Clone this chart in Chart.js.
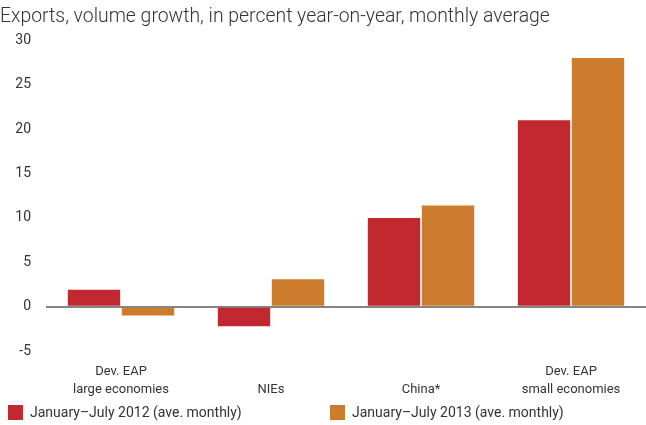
<!DOCTYPE html>
<html>
<head>
<meta charset="utf-8">
<script src="https://cdn.jsdelivr.net/npm/chart.js@4.4.1/dist/chart.umd.min.js"></script>
<style>
  html, body { margin: 0; padding: 0; background: #fff; }
  #wrap { position: relative; width: 646px; height: 425px; overflow: hidden; }
  #exportsChart { position: absolute; left: 0; top: 0; }
  .legend { position: absolute; top: 404px; font-family: Roboto, sans-serif; font-size: 14px; color: #333; white-space: nowrap; }
  .legend span.box { display: inline-block; width: 15px; height: 15px; vertical-align: -3px; margin-right: 7px; }
</style>
</head>
<body>
<div id="wrap">
  <canvas id="exportsChart" width="646" height="425"></canvas>
  <div class="legend" style="left:8px"><span class="box" style="background:#c1282f"></span>January–July 2012 (ave. monthly)</div>
  <div class="legend" style="left:330px"><span class="box" style="background:#cd7b2c"></span>January–July 2013 (ave. monthly)</div>
</div>
<script>
// Export volume growth by country group
const groups = [
  ['Dev. EAP', 'large economies'],
  ['', 'NIEs'],
  ['', 'China*'],
  ['Dev. EAP', 'small economies']
];
const jan2012 = [1.9, -2.2, 10.0, 21.0];
const jan2013 = [-1.0, 3.1, 11.4, 28.0];
const yTicks = [-5, 0, 5, 10, 15, 20, 25, 30];

const textFont = 'Roboto, sans-serif';

const ctx = document.getElementById('exportsChart').getContext('2d');
new Chart(ctx, {
  type: 'bar',
  data: {
    labels: groups,
    datasets: [
      {
        label: 'January–July 2012 (ave. monthly)',
        data: jan2012,
        backgroundColor: '#c1282f',
        categoryPercentage: 0.72,
        barPercentage: 0.97
      },
      {
        label: 'January–July 2013 (ave. monthly)',
        data: jan2013,
        backgroundColor: '#cd7b2c',
        categoryPercentage: 0.72,
        barPercentage: 0.97
      }
    ]
  },
  options: {
    responsive: false,
    animation: false,
    layout: { padding: { left: 0, right: 0, top: 4, bottom: 22 } },
    plugins: {
      legend: { display: false },
      tooltip: { enabled: false },
      title: {
        display: true,
        text: 'Exports, volume growth, in percent year-on-year, monthly average',
        align: 'start',
        color: '#333',
        font: { family: 'Roboto, sans-serif', size: 19.4, weight: '300' },
        padding: { top: 2, bottom: 11 }
      }
    },
    scales: {
      x: {
        grid: { display: false },
        border: { display: false },
        ticks: {
          color: '#333',
          font: { family: textFont, size: 13, lineHeight: 1.38 },
          padding: 4,
          maxRotation: 0,
          autoSkip: false
        }
      },
      y: {
        min: -5,
        max: 30,
        z: 1, // zero line sits over the bar bases
        afterBuildTicks: axis => { axis.ticks = yTicks.map(v => ({ value: v })); },
        afterFit: axis => { axis.width = 46; },
        border: { display: false },
        grid: {
          drawTicks: false,
          color: c => (c.tick && c.tick.value === 0 ? 'rgba(110,110,110,0.85)' : 'rgba(0,0,0,0)'),
          lineWidth: 2
        },
        ticks: {
          color: '#333',
          font: { family: textFont, size: 14 },
          padding: 15
        }
      }
    }
  }
});
</script>
</body>
</html>
